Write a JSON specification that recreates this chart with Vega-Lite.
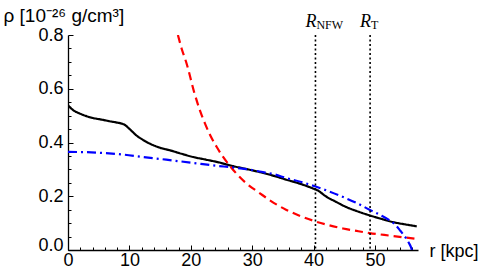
{
  "$schema": "https://vega.github.io/schema/vega-lite/v6.json",
  "autosize": "none",
  "padding": {"left": 68, "top": 35, "right": 66, "bottom": 28},
  "width": 350,
  "height": 215,
  "background": "white",
  "config": {
    "view": {"stroke": null},
    "axis": {"grid": false, "labelFont": "Liberation Sans", "titleFont": "Liberation Sans", "labelColor": "black", "titleColor": "black", "domainColor": "black", "tickColor": "black", "titleFontWeight": "normal"}
  },
  "datasets": {
    "curves": [
      {"r": 0, "rho": 0.539, "s": "a"},
      {"r": 0.5, "rho": 0.527, "s": "a"},
      {"r": 1, "rho": 0.518, "s": "a"},
      {"r": 1.9, "rho": 0.508, "s": "a"},
      {"r": 3, "rho": 0.498, "s": "a"},
      {"r": 4.1, "rho": 0.491, "s": "a"},
      {"r": 5.5, "rho": 0.485, "s": "a"},
      {"r": 6.8, "rho": 0.479, "s": "a"},
      {"r": 8, "rho": 0.474, "s": "a"},
      {"r": 8.8, "rho": 0.47, "s": "a"},
      {"r": 9.3, "rho": 0.465, "s": "a"},
      {"r": 9.8, "rho": 0.455, "s": "a"},
      {"r": 10.5, "rho": 0.44, "s": "a"},
      {"r": 11.1, "rho": 0.427, "s": "a"},
      {"r": 12.2, "rho": 0.41, "s": "a"},
      {"r": 13.3, "rho": 0.396, "s": "a"},
      {"r": 14.8, "rho": 0.382, "s": "a"},
      {"r": 16.6, "rho": 0.371, "s": "a"},
      {"r": 18.5, "rho": 0.358, "s": "a"},
      {"r": 20.4, "rho": 0.346, "s": "a"},
      {"r": 22.3, "rho": 0.337, "s": "a"},
      {"r": 24.2, "rho": 0.328, "s": "a"},
      {"r": 26.9, "rho": 0.312, "s": "a"},
      {"r": 28.3, "rho": 0.305, "s": "a"},
      {"r": 31.2, "rho": 0.29, "s": "a"},
      {"r": 33.5, "rho": 0.276, "s": "a"},
      {"r": 35.5, "rho": 0.262, "s": "a"},
      {"r": 38, "rho": 0.245, "s": "a"},
      {"r": 40.2, "rho": 0.226, "s": "a"},
      {"r": 40.8, "rho": 0.22, "s": "a"},
      {"r": 41.5, "rho": 0.208, "s": "a"},
      {"r": 42.1, "rho": 0.198, "s": "a"},
      {"r": 43.5, "rho": 0.181, "s": "a"},
      {"r": 45.3, "rho": 0.16, "s": "a"},
      {"r": 47, "rho": 0.145, "s": "a"},
      {"r": 49.1, "rho": 0.129, "s": "a"},
      {"r": 51, "rho": 0.116, "s": "a"},
      {"r": 52.9, "rho": 0.104, "s": "a"},
      {"r": 55, "rho": 0.095, "s": "a"},
      {"r": 56.8, "rho": 0.088, "s": "a"},
      {"r": 17.9, "rho": 0.8, "s": "b"},
      {"r": 18.5, "rho": 0.75, "s": "b"},
      {"r": 19.3, "rho": 0.695, "s": "b"},
      {"r": 20.6, "rho": 0.583, "s": "b"},
      {"r": 21.4, "rho": 0.525, "s": "b"},
      {"r": 22.3, "rho": 0.471, "s": "b"},
      {"r": 23.2, "rho": 0.425, "s": "b"},
      {"r": 24.2, "rho": 0.384, "s": "b"},
      {"r": 25.2, "rho": 0.348, "s": "b"},
      {"r": 26.3, "rho": 0.315, "s": "b"},
      {"r": 27.6, "rho": 0.28, "s": "b"},
      {"r": 29.1, "rho": 0.247, "s": "b"},
      {"r": 31.2, "rho": 0.212, "s": "b"},
      {"r": 33, "rho": 0.183, "s": "b"},
      {"r": 35.5, "rho": 0.15, "s": "b"},
      {"r": 38, "rho": 0.125, "s": "b"},
      {"r": 40.2, "rho": 0.107, "s": "b"},
      {"r": 42.5, "rho": 0.092, "s": "b"},
      {"r": 44.8, "rho": 0.08, "s": "b"},
      {"r": 47, "rho": 0.071, "s": "b"},
      {"r": 49.1, "rho": 0.063, "s": "b"},
      {"r": 51.5, "rho": 0.056, "s": "b"},
      {"r": 54, "rho": 0.049, "s": "b"},
      {"r": 56.8, "rho": 0.041, "s": "b"},
      {"r": 0, "rho": 0.365, "s": "c"},
      {"r": 3, "rho": 0.364, "s": "c"},
      {"r": 5.7, "rho": 0.361, "s": "c"},
      {"r": 9, "rho": 0.355, "s": "c"},
      {"r": 12.2, "rho": 0.346, "s": "c"},
      {"r": 16, "rho": 0.336, "s": "c"},
      {"r": 20.4, "rho": 0.324, "s": "c"},
      {"r": 24, "rho": 0.314, "s": "c"},
      {"r": 26.9, "rho": 0.307, "s": "c"},
      {"r": 29, "rho": 0.301, "s": "c"},
      {"r": 31.2, "rho": 0.292, "s": "c"},
      {"r": 33.7, "rho": 0.281, "s": "c"},
      {"r": 35.5, "rho": 0.268, "s": "c"},
      {"r": 38, "rho": 0.253, "s": "c"},
      {"r": 40.2, "rho": 0.237, "s": "c"},
      {"r": 42.5, "rho": 0.218, "s": "c"},
      {"r": 44.8, "rho": 0.197, "s": "c"},
      {"r": 47, "rho": 0.175, "s": "c"},
      {"r": 49.1, "rho": 0.15, "s": "c"},
      {"r": 50.8, "rho": 0.131, "s": "c"},
      {"r": 52.4, "rho": 0.11, "s": "c"},
      {"r": 53.3, "rho": 0.094, "s": "c"},
      {"r": 54, "rho": 0.075, "s": "c"},
      {"r": 54.6, "rho": 0.058, "s": "c"},
      {"r": 55.1, "rho": 0.042, "s": "c"},
      {"r": 55.5, "rho": 0.027, "s": "c"},
      {"r": 55.9, "rho": 0.008, "s": "c"},
      {"r": 56.0, "rho": 0.0, "s": "c"}
    ],
    "radii": [
      {"r": 40.3, "sub": "NFW"},
      {"r": 49.2, "sub": "T"}
    ]
  },
  "resolve": {"axis": {"x": "independent", "y": "independent"}},
  "layer": [
    {
      "data": {"name": "curves"},
      "mark": {"type": "line", "strokeWidth": 2.2, "clip": true, "interpolate": "monotone"},
      "encoding": {
        "x": {"field": "r", "type": "quantitative",
              "scale": {"domain": [0, 57], "nice": false, "zero": true},
              "axis": {"orient": "bottom", "values": [0, 10, 20, 30, 40, 50], "tickSize": -5, "tickWidth": 1, "domainWidth": 1.3, "labelFontSize": 18, "labelPadding": 6, "labelFlush": false,
                       "title": "r [kpc]", "titleFontSize": 18, "titleAnchor": "start", "titleAlign": "left", "titleBaseline": "alphabetic", "titleX": 361, "titleY": 6}},
        "y": {"field": "rho", "type": "quantitative",
              "scale": {"domain": [0, 0.8], "nice": false},
              "axis": {"orient": "left", "values": [0, 0.2, 0.4, 0.6, 0.8], "format": ".1f", "tickSize": -5, "tickWidth": 1, "domainWidth": 1.3, "labelFontSize": 18, "labelPadding": 10, "labelFlush": false,
                       "labelBaseline": {"condition": {"test": "datum.value === 0", "value": "alphabetic"}, "value": "middle"},
                       "title": "ρ [10⁻²⁶ g/cm³]", "titleFontSize": 19, "titleAngle": 0, "titleAlign": "left", "titleBaseline": "alphabetic", "titleAnchor": "start", "titleX": -65, "titleY": -14}},
        "color": {"field": "s", "type": "nominal", "legend": null,
                  "scale": {"domain": ["a", "b", "c"], "range": ["#000000", "#ff0000", "#0000ff"]}},
        "strokeDash": {"field": "s", "type": "nominal", "legend": null,
                       "scale": {"domain": ["a", "b", "c"], "range": [[1, 0], [8, 5], [9, 4, 2, 4]]}}
      }
    },
    {
      "data": {"name": "curves"},
      "mark": {"type": "line", "opacity": 0},
      "encoding": {
        "x": {"field": "r", "type": "quantitative",
              "axis": {"orient": "bottom", "values": [2, 4, 6, 8, 12, 14, 16, 18, 22, 24, 26, 28, 32, 34, 36, 38, 42, 44, 46, 48, 52, 54, 56], "tickSize": -3, "tickWidth": 1, "labels": false, "domain": false, "title": null}},
        "y": {"field": "rho", "type": "quantitative",
              "axis": {"orient": "left", "values": [0.05, 0.1, 0.15, 0.25, 0.3, 0.35, 0.45, 0.5, 0.55, 0.65, 0.7, 0.75], "tickSize": -3, "tickWidth": 1, "labels": false, "domain": false, "title": null}},
        "detail": {"field": "s"}
      }
    },
    {
      "data": {"name": "radii"},
      "mark": {"type": "rule", "color": "black", "strokeWidth": 1.6, "strokeDash": [2, 2.5]},
      "encoding": {
        "x": {"field": "r", "type": "quantitative", "axis": null}
      }
    },
    {
      "data": {"name": "radii"},
      "mark": {"type": "text", "text": "R", "font": "Liberation Serif", "fontStyle": "italic", "fontSize": 18, "align": "right", "baseline": "alphabetic", "dx": 1, "dy": -8, "color": "black"},
      "encoding": {
        "x": {"field": "r", "type": "quantitative", "axis": null},
        "y": {"datum": 0.8, "type": "quantitative", "axis": null}
      }
    },
    {
      "data": {"name": "radii"},
      "mark": {"type": "text", "font": "Liberation Serif", "fontSize": 12, "align": "left", "baseline": "alphabetic", "dx": 1, "dy": -6, "color": "black"},
      "encoding": {
        "x": {"field": "r", "type": "quantitative", "axis": null},
        "y": {"datum": 0.8, "type": "quantitative", "axis": null},
        "text": {"field": "sub"}
      }
    }
  ]
}
